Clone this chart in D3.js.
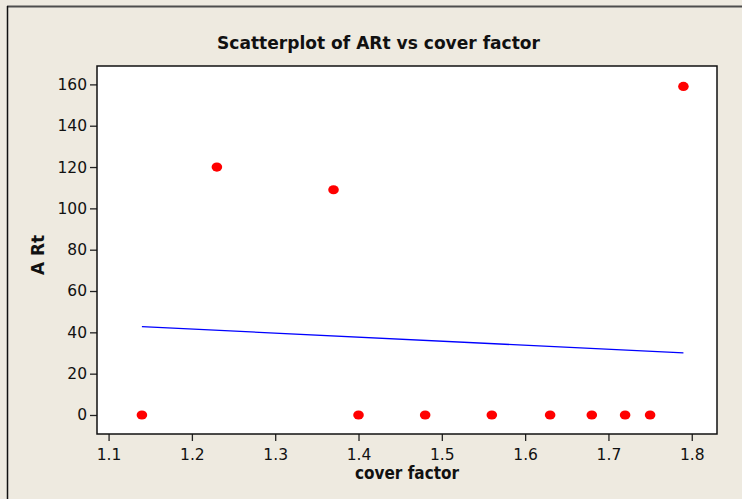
<!DOCTYPE html>
<html>
<head>
<meta charset="utf-8">
<script src="https://cdn.jsdelivr.net/npm/d3@7"></script>
<style>
  body { margin: 0; background: #eeeae0; }
  svg { display: block; }
</style>
</head>
<body>
<div id="chart"></div>
<script>
// Data
const coverFactor = [1.14, 1.23, 1.37, 1.40, 1.48, 1.56, 1.63, 1.68, 1.72, 1.75, 1.79];
const aRt = [0, 120, 109, 0, 0, 0, 0, 0, 0, 0, 159];
const xTicks = [1.1, 1.2, 1.3, 1.4, 1.5, 1.6, 1.7, 1.8];
const yTicks = [0, 20, 40, 60, 80, 100, 120, 140, 160];

const W = 742, H = 499;
const plot = {left: 97, top: 66, right: 717, bottom: 434};

const svg = d3.select("#chart")
    .append("svg")
    .attr("width", W)
    .attr("height", H);

// Background + window edge
svg.append("rect").attr("width", W).attr("height", H).attr("fill", "#eeeae0");
svg.append("line")
    .attr("x1", 7).attr("y1", 6.5).attr("x2", W).attr("y2", 6.5)
    .attr("stroke", "#4d4d4d").attr("stroke-width", 2);
svg.append("line")
    .attr("x1", 7.5).attr("y1", 6).attr("x2", 7.5).attr("y2", H)
    .attr("stroke", "#111").attr("stroke-width", 1.5);

const x = d3.scaleLinear()
    .domain([1.0861, 1.8303])
    .range([plot.left, plot.right]);

const y = d3.scaleLinear()
    .domain([-9.2, 168.9])
    .range([plot.bottom, plot.top]);

// Plot area
svg.append("rect")
    .attr("x", plot.left)
    .attr("y", plot.top)
    .attr("width", plot.right - plot.left)
    .attr("height", plot.bottom - plot.top)
    .attr("fill", "white");

const font = "Tahoma, 'DejaVu Sans', Verdana, sans-serif";

// Axes
const xAxis = d3.axisBottom(x).tickValues(xTicks).tickSize(7).tickSizeOuter(0)
    .tickFormat(d3.format(".1f"));
const yAxis = d3.axisLeft(y).tickValues(yTicks).tickSize(7).tickSizeOuter(0);

const gx = svg.append("g")
    .attr("transform", `translate(0,${plot.bottom})`)
    .call(xAxis);
const gy = svg.append("g")
    .attr("transform", `translate(${plot.left},0)`)
    .call(yAxis);

[gx, gy].forEach(g => {
    g.select(".domain").remove();
    g.selectAll(".tick line").attr("stroke", "#222").attr("stroke-width", 1.3);
    g.selectAll(".tick text")
        .attr("fill", "#111")
        .style("font-family", font)
        .style("font-size", "15.5px");
});
gx.selectAll(".tick text").attr("dy", "1.0em");
gy.selectAll(".tick text").attr("x", -10);

// Regression line (least squares fit)
const mx = d3.mean(coverFactor), my = d3.mean(aRt);
const sxy = d3.sum(coverFactor, (d, i) => (d - mx) * (aRt[i] - my));
const sxx = d3.sum(coverFactor, d => (d - mx) * (d - mx));
const slope = sxy / sxx;
const intercept = my - slope * mx;
const xExt = d3.extent(coverFactor);

svg.append("line")
    .attr("x1", x(xExt[0]))
    .attr("y1", y(intercept + slope * xExt[0]))
    .attr("x2", x(xExt[1]))
    .attr("y2", y(intercept + slope * xExt[1]))
    .attr("stroke", "#0000ff")
    .attr("stroke-width", 1.3);

// Points
svg.append("g")
    .selectAll("ellipse")
    .data(coverFactor.map((d, i) => ({x: d, y: aRt[i]})))
    .join("ellipse")
    .attr("cx", d => x(d.x))
    .attr("cy", d => y(d.y))
    .attr("rx", 5.3)
    .attr("ry", 4.6)
    .attr("fill", "#ff0000");

// Plot frame
svg.append("rect")
    .attr("x", plot.left)
    .attr("y", plot.top)
    .attr("width", plot.right - plot.left)
    .attr("height", plot.bottom - plot.top)
    .attr("fill", "none")
    .attr("stroke", "#111")
    .attr("stroke-width", 1.5);

// Titles
svg.append("text")
    .attr("x", 378.5)
    .attr("y", 49)
    .attr("text-anchor", "middle")
    .attr("textLength", 323)
    .attr("lengthAdjust", "spacingAndGlyphs")
    .style("font-family", font)
    .style("font-weight", "bold")
    .style("font-size", "18px")
    .attr("fill", "#111")
    .text("Scatterplot of ARt vs cover factor");

svg.append("text")
    .attr("x", 407)
    .attr("y", 479)
    .attr("text-anchor", "middle")
    .attr("textLength", 104)
    .attr("lengthAdjust", "spacingAndGlyphs")
    .style("font-family", font)
    .style("font-weight", "bold")
    .style("font-size", "17px")
    .attr("fill", "#111")
    .text("cover factor");

svg.append("text")
    .attr("transform", "translate(44,255) rotate(-90)")
    .attr("text-anchor", "middle")
    .attr("textLength", 40)
    .attr("lengthAdjust", "spacingAndGlyphs")
    .style("font-family", font)
    .style("font-weight", "bold")
    .style("font-size", "17px")
    .attr("fill", "#111")
    .text("A Rt");
</script>
</body>
</html>
